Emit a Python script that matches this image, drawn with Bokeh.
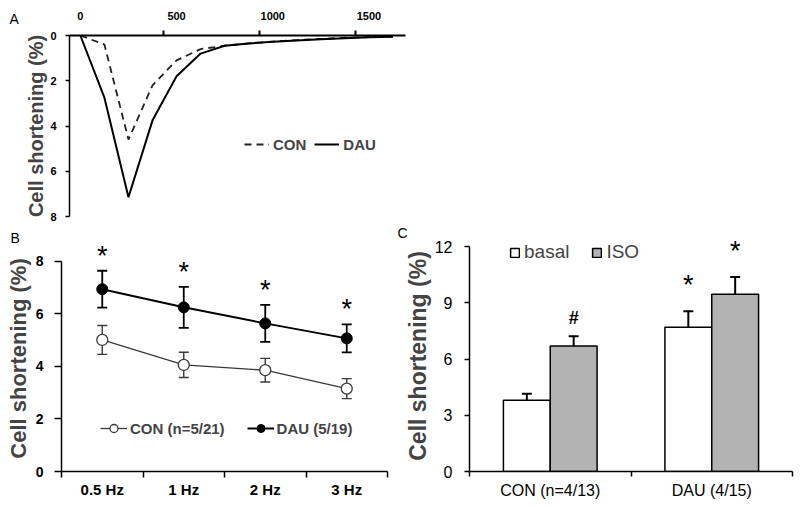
from bokeh.plotting import figure
from bokeh.layouts import column, row
from bokeh.models import (Range1d, FixedTicker, Legend, LegendItem, Whisker,
                          TeeHead, ColumnDataSource)
from bokeh.core.properties import value
from bokeh.embed import file_html
from bokeh.resources import INLINE

FONT = "Liberation Sans"

# ---------------- data ----------------
# Panel A: shortening traces (time in ms)
time_ms = [0, 125, 250, 375, 500, 625, 750, 875, 1000, 1125, 1250, 1375, 1500, 1625]
trace_con = [0, 0.4, 4.6, 2.2, 1.1, 0.6, 0.45, 0.35, 0.27, 0.2, 0.15, 0.1, 0.07, 0.05]
trace_dau = [0, 2.75, 7.15, 3.75, 1.8, 0.8, 0.45, 0.35, 0.28, 0.22, 0.17, 0.12, 0.08, 0.05]
a_xticks = [0, 500, 1000, 1500]
a_xminor = [430, 930, 1430]
a_yticks = [0, 2, 4, 6, 8]

# Panel B: frequency dependence
freq_labels = ["0.5 Hz", "1 Hz", "2 Hz", "3 Hz"]
b_con_mean = [5.0, 4.05, 3.85, 3.15]
b_con_err = [0.55, 0.48, 0.45, 0.38]
b_dau_mean = [6.93, 6.24, 5.63, 5.06]
b_dau_err = [0.70, 0.78, 0.70, 0.53]
b_dau_mark = ["*", "*", "*", "*"]
b_yticks = [0, 2, 4, 6, 8]

# Panel C: basal vs ISO
c_groups = ["CON (n=4/13)", "DAU (4/15)"]
c_basal = [3.8, 7.7]
c_basal_err = [0.35, 0.85]
c_iso = [6.7, 9.45]
c_iso_err = [0.52, 0.92]
c_basal_mark = ["", "*"]
c_iso_mark = ["#", "*"]
c_yticks = [0, 3, 6, 9, 12]

panel_letters = ["A", "B", "C"]


def no_align(p):
    try:
        p.frame_align = False
    except Exception:
        pass


def clean(p):
    p.xgrid.visible = False
    p.ygrid.visible = False
    p.outline_line_color = None
    p.background_fill_color = "white"
    p.border_fill_color = "white"
    no_align(p)


def style_axis(ax, size, bold, lw=1.5):
    ax.axis_line_color = "black"
    ax.axis_line_width = lw
    ax.major_tick_line_color = "black"
    ax.major_tick_line_width = lw
    ax.minor_tick_line_color = "black"
    ax.minor_tick_line_width = lw
    ax.major_tick_in = 0
    ax.minor_tick_in = 0
    ax.major_label_text_font = FONT
    ax.major_label_text_font_size = size
    ax.major_label_text_font_style = "bold" if bold else "normal"
    ax.major_label_text_color = "black"


def letter_fig(txt, w, h, x, y, baseline):
    """A small blank canvas that only carries a panel letter."""
    f = figure(width=w, height=h, x_range=Range1d(0, w), y_range=Range1d(0, h),
               x_axis_type=None, y_axis_type=None, output_backend="svg",
               toolbar_location=None, min_border=0, title=None)
    f.outline_line_color = None
    f.background_fill_color = "white"
    f.border_fill_color = "white"
    no_align(f)
    f.text([x], [y], text=[txt], text_align="left", text_baseline=baseline,
           text_font=value(FONT), text_font_size="14px", text_color="black")
    return f


# ---------------- Panel A ----------------
pA = figure(width=398, height=223, x_range=Range1d(-56.5, 1690), y_range=Range1d(8, 0),
            x_axis_location="above", output_backend="svg", toolbar_location=None, title=None,
            min_border_left=43, min_border_right=15, min_border_top=35, min_border_bottom=7)
clean(pA)
srcA = ColumnDataSource(dict(t=time_ms, con=trace_con, dau=trace_dau))
r_con = pA.line("t", "con", source=srcA, line_dash="7 5", line_width=1.8, line_color="#222222")
r_dau = pA.line("t", "dau", source=srcA, line_width=2, line_color="black")

xa = pA.xaxis[0]
style_axis(xa, "11px", True, lw=2)
xa.ticker = FixedTicker(ticks=a_xticks, minor_ticks=a_xminor)
xa.major_tick_out = 0
xa.minor_tick_out = 5
xa.major_label_standoff = 11

ya = pA.yaxis[0]
style_axis(ya, "11px", True)
ya.ticker = FixedTicker(ticks=a_yticks, minor_ticks=[])
ya.major_tick_out = 4
ya.minor_tick_out = 0
ya.major_label_standoff = 9
ya.axis_label = "Cell shortening (%)"
ya.axis_label_text_font = FONT
ya.axis_label_text_font_size = "20px"
ya.axis_label_text_font_style = "bold"
ya.axis_label_standoff = 0

legA = Legend(items=[LegendItem(label="CON", renderers=[r_con]),
                     LegendItem(label="DAU", renderers=[r_dau])],
              orientation="horizontal", location=(175, 62), glyph_width=25, glyph_height=20,
              label_standoff=4, spacing=8, padding=0, margin=0, border_line_color=None,
              background_fill_alpha=0, label_text_font=FONT, label_text_font_size="15px",
              label_text_font_style="bold")
pA.add_layout(legA)
letA = letter_fig(panel_letters[0], 22, 223, 9, 213, "top")

# ---------------- Panel B ----------------
pB = figure(width=395, height=261, x_range=Range1d(0, 4), y_range=Range1d(0, 8.59),
            output_backend="svg", toolbar_location=None, title=None,
            min_border_left=61, min_border_right=8, min_border_top=0, min_border_bottom=35)
clean(pB)
xb = [i + 0.5 for i in range(len(freq_labels))]
srcB = ColumnDataSource(dict(
    x=xb, con=b_con_mean, dau=b_dau_mean,
    con_lo=[m - e for m, e in zip(b_con_mean, b_con_err)],
    con_hi=[m + e for m, e in zip(b_con_mean, b_con_err)],
    dau_lo=[m - e for m, e in zip(b_dau_mean, b_dau_err)],
    dau_hi=[m + e for m, e in zip(b_dau_mean, b_dau_err)],
    mark=b_dau_mark))

for lo, hi, col, lw in (("con_lo", "con_hi", "#3a3a3a", 1.4), ("dau_lo", "dau_hi", "black", 1.8)):
    w = Whisker(source=srcB, base="x", lower=lo, upper=hi, line_color=col, line_width=lw,
                level="underlay",
                upper_head=TeeHead(size=10, line_color=col, line_width=lw),
                lower_head=TeeHead(size=10, line_color=col, line_width=lw))
    pB.add_layout(w)

l_con = pB.line("x", "con", source=srcB, line_color="#3a3a3a", line_width=1.3)
s_con = pB.scatter("x", "con", source=srcB, size=11, fill_color="white",
                   line_color="#3a3a3a", line_width=1.3)
l_dau = pB.line("x", "dau", source=srcB, line_color="black", line_width=2)
s_dau = pB.scatter("x", "dau", source=srcB, size=11, fill_color="black", line_color="black")
pB.text("x", "dau_hi", text="mark", source=srcB, text_align="center", text_baseline="alphabetic",
        y_offset=-15, text_font=value(FONT), text_font_size="27px", text_color="black")

xbx = pB.xaxis[0]
style_axis(xbx, "15px", True)
xbx.ticker = FixedTicker(ticks=xb, minor_ticks=[0, 1, 2, 3, 4])
xbx.major_label_overrides = {x: lab for x, lab in zip(xb, freq_labels)}
xbx.major_tick_out = 0
xbx.minor_tick_out = 6
xbx.major_label_standoff = 3

yb = pB.yaxis[0]
style_axis(yb, "14px", True)
yb.ticker = FixedTicker(ticks=b_yticks, minor_ticks=[])
yb.bounds = (0, 8)
yb.major_tick_out = 7
yb.minor_tick_out = 0
yb.major_label_standoff = 11
yb.axis_label = "Cell shortening (%)"
yb.axis_label_text_font = FONT
yb.axis_label_text_font_size = "22px"
yb.axis_label_text_font_style = "bold"
yb.axis_label_standoff = 2

legB = Legend(items=[LegendItem(label="CON (n=5/21)", renderers=[l_con, s_con]),
                     LegendItem(label="DAU (5/19)", renderers=[l_dau, s_dau])],
              orientation="horizontal", location=(39, 33), glyph_width=27, glyph_height=20,
              label_standoff=3, spacing=22, padding=0, margin=0, border_line_color=None,
              background_fill_alpha=0, label_text_font=FONT, label_text_font_size="15px",
              label_text_font_style="bold")
pB.add_layout(legB)
letB = letter_fig(panel_letters[1], 395, 22, 10, 0, "bottom")

# ---------------- Panel C ----------------
pC = figure(width=405, height=266, x_range=Range1d(0, 2), y_range=Range1d(0, 12.32),
            output_backend="svg", toolbar_location=None, title=None,
            min_border_left=74, min_border_right=8, min_border_top=0, min_border_bottom=35)
clean(pC)
xc = [i + 0.5 for i in range(len(c_groups))]
bw = 0.29
xbas = [x - bw / 2 for x in xc]
xiso = [x + bw / 2 for x in xc]
srcC = ColumnDataSource(dict(
    xb=xbas, xi=xiso, basal=c_basal, iso=c_iso,
    b_lo=[m - e for m, e in zip(c_basal, c_basal_err)],
    b_hi=[m + e for m, e in zip(c_basal, c_basal_err)],
    i_lo=[m - e for m, e in zip(c_iso, c_iso_err)],
    i_hi=[m + e for m, e in zip(c_iso, c_iso_err)]))

r_basal = pC.vbar(x="xb", top="basal", width=bw, source=srcC, fill_color="white",
                  line_color="black", line_width=1.5)
r_iso = pC.vbar(x="xi", top="iso", width=bw, source=srcC, fill_color="#b3b3b3",
                line_color="black", line_width=1.5)
for base, lo, hi in (("xb", "b_lo", "b_hi"), ("xi", "i_lo", "i_hi")):
    w = Whisker(source=srcC, base=base, lower=lo, upper=hi, line_color="black", line_width=2,
                upper_head=TeeHead(size=10, line_color="black", line_width=2),
                lower_head=TeeHead(size=10, line_color="black", line_width=2))
    pC.add_layout(w)

star_x, star_y, hash_x, hash_y = [], [], [], []
for xs, tops, errs, marks in ((xbas, c_basal, c_basal_err, c_basal_mark),
                              (xiso, c_iso, c_iso_err, c_iso_mark)):
    for x, t, e, m in zip(xs, tops, errs, marks):
        if m == "*":
            star_x.append(x)
            star_y.append(t + e)
        elif m == "#":
            hash_x.append(x)
            hash_y.append(t + e)
pC.text(star_x, star_y, text=["*"] * len(star_x), text_align="center",
        text_baseline="alphabetic", y_offset=-26, text_font=value(FONT),
        text_font_size="27px", text_color="black")
pC.text(hash_x, hash_y, text=["#"] * len(hash_x), text_align="center",
        text_baseline="alphabetic", y_offset=-18, text_font=value(FONT),
        text_font_size="18px", text_font_style="bold", text_color="black")

xcx = pC.xaxis[0]
style_axis(xcx, "16px", False)
xcx.ticker = FixedTicker(ticks=xc, minor_ticks=[0, 1, 2])
xcx.major_label_overrides = {x: lab for x, lab in zip(xc, c_groups)}
xcx.major_tick_out = 0
xcx.minor_tick_out = 5
xcx.major_label_standoff = 5

ycx = pC.yaxis[0]
style_axis(ycx, "16px", False)
ycx.ticker = FixedTicker(ticks=c_yticks, minor_ticks=[])
ycx.bounds = (0, 12)
ycx.major_tick_out = 5
ycx.minor_tick_out = 0
ycx.major_label_standoff = 12
ycx.axis_label = "Cell shortening (%)"
ycx.axis_label_text_font = FONT
ycx.axis_label_text_font_size = "23px"
ycx.axis_label_text_font_style = "bold"
ycx.axis_label_standoff = 1

legC = Legend(items=[LegendItem(label="basal", renderers=[r_basal]),
                     LegendItem(label="ISO", renderers=[r_iso])],
              orientation="horizontal", location=(40, 208), glyph_width=11, glyph_height=11,
              label_standoff=4, spacing=22, padding=0, margin=0, border_line_color=None,
              background_fill_alpha=0, label_text_font=FONT, label_text_font_size="19px")
pC.add_layout(legC)
letC = letter_fig(panel_letters[2], 405, 17, 2, 0, "bottom")

layout = column(
    row(letA, pA, spacing=0),
    row(column(letB, pB, spacing=0), column(letC, pC, spacing=0), spacing=0),
    spacing=0)
open("out.html", "w").write(file_html(layout, INLINE))
